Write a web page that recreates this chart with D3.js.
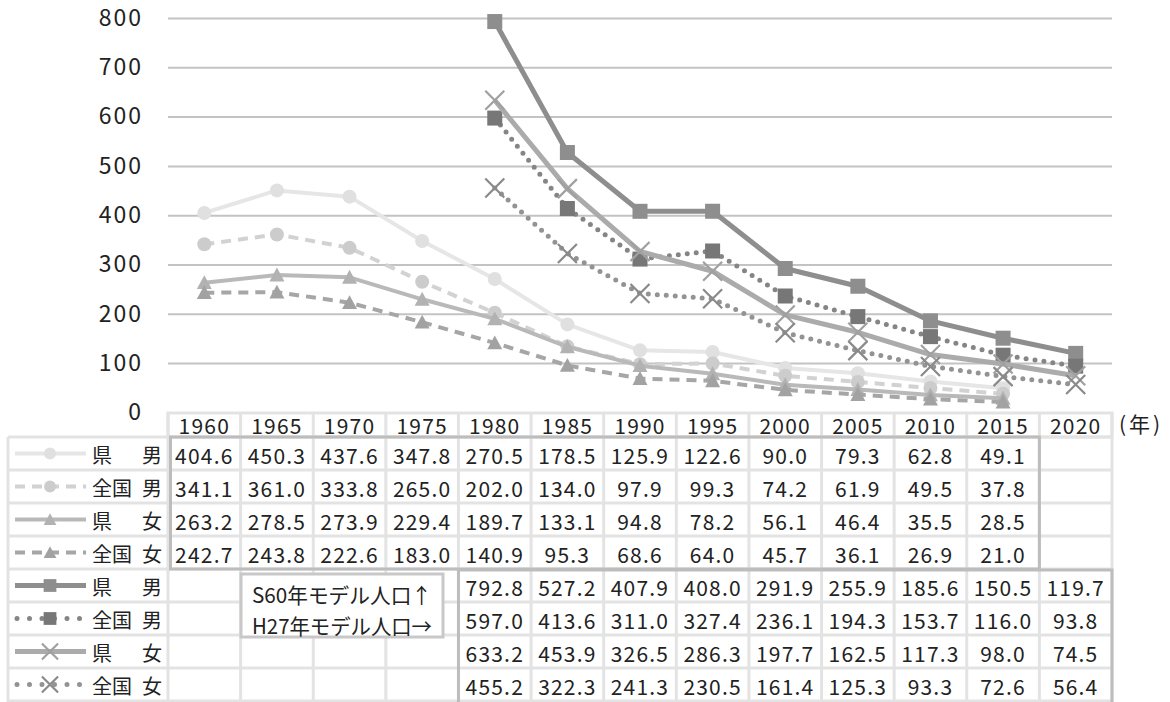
<!DOCTYPE html>
<html>
<head>
<meta charset="utf-8">
<script src="https://cdn.jsdelivr.net/npm/d3@7/dist/d3.min.js"></script>
<style>
  html, body { margin: 0; padding: 0; background: #fff; }
  svg { display: block; }
  text { font-family: "Noto Sans CJK JP", "Noto Sans", sans-serif; fill: #222; }
</style>
</head>
<body>
<svg id="chart" width="1170" height="702"></svg>
<script>
// Years shown on the category axis
const years = ["1960","1965","1970","1975","1980","1985","1990","1995","2000","2005","2010","2015","2020"];
const yTicks = [0,100,200,300,400,500,600,700,800];

// Rates 1960-2015 (standardised to the S60 model population)
const prefMaleS60   = [404.6,450.3,437.6,347.8,270.5,178.5,125.9,122.6,90.0,79.3,62.8,49.1];
const natMaleS60    = [341.1,361.0,333.8,265.0,202.0,134.0,97.9,99.3,74.2,61.9,49.5,37.8];
const prefFemaleS60 = [263.2,278.5,273.9,229.4,189.7,133.1,94.8,78.2,56.1,46.4,35.5,28.5];
const natFemaleS60  = [242.7,243.8,222.6,183.0,140.9,95.3,68.6,64.0,45.7,36.1,26.9,21.0];

// Rates 1980-2020 (standardised to the H27 model population)
const prefMaleH27   = [792.8,527.2,407.9,408.0,291.9,255.9,185.6,150.5,119.7];
const natMaleH27    = [597.0,413.6,311.0,327.4,236.1,194.3,153.7,116.0,93.8];
const prefFemaleH27 = [633.2,453.9,326.5,286.3,197.7,162.5,117.3,98.0,74.5];
const natFemaleH27  = [455.2,322.3,241.3,230.5,161.4,125.3,93.3,72.6,56.4];

const seriesNames = ["県\u3000男","全国\u3000男","県\u3000女","全国\u3000女"];
const boxNote = ["S60年モデル人口↑","H27年モデル人口→"];
const unitLabel = "(年)";

const series = [
  { name: seriesNames[0], start: 0, values: prefMaleS60,   line: "#e6e6e6", mark: "#e0e0e0", width: 4, dash: null,   shape: "circle" },
  { name: seriesNames[1], start: 0, values: natMaleS60,    line: "#d2d2d2", mark: "#cccccc", width: 4, dash: "10 7", shape: "circle" },
  { name: seriesNames[2], start: 0, values: prefFemaleS60, line: "#b9b9b9", mark: "#b2b2b2", width: 4, dash: null,   shape: "triangle" },
  { name: seriesNames[3], start: 0, values: natFemaleS60,  line: "#a6a6a6", mark: "#a2a2a2", width: 4, dash: "10 7", shape: "triangle" },
  { name: seriesNames[0], start: 4, values: prefMaleH27,   line: "#8e8e8e", mark: "#8e8e8e", width: 5, dash: null,   shape: "square" },
  { name: seriesNames[1], start: 4, values: natMaleH27,    line: "#858585", mark: "#777777", width: 5, dash: "0 9",  shape: "square" },
  { name: seriesNames[2], start: 4, values: prefFemaleH27, line: "#ababab", mark: "#a0a0a0", width: 5, dash: null,   shape: "cross" },
  { name: seriesNames[3], start: 4, values: natFemaleH27,  line: "#939393", mark: "#8a8a8a", width: 5, dash: "0 9",  shape: "cross" }
];

const svg = d3.select("#chart");
const plotLeft = 168, plotRight = 1112, plotTop = 18, plotBottom = 412.4;

const x = d3.scaleBand().domain(years).range([plotLeft, plotRight]);
const y = d3.scaleLinear().domain([0, 800]).range([plotBottom, plotTop]);
const cx = d => x(d) + x.bandwidth() / 2;

// Horizontal gridlines
const grid = svg.append("g")
  .attr("transform", `translate(${plotLeft},0)`)
  .call(d3.axisRight(y).tickValues(yTicks.filter(t => t > 0)).tickSize(plotRight - plotLeft).tickFormat(""));
grid.select(".domain").remove();
grid.selectAll("line").attr("stroke", "#c3c3c3").attr("stroke-width", 2);

// Y axis labels
const yAxis = svg.append("g")
  .attr("transform", `translate(143,0)`)
  .call(d3.axisLeft(y).tickValues(yTicks).tickSize(0).tickPadding(0));
yAxis.select(".domain").remove();
yAxis.selectAll("text")
  .attr("font-size", 23).attr("letter-spacing", 2).attr("fill", "#222")
  .style("font-family", "'Noto Sans CJK JP', sans-serif");

// Marker drawing
function drawMarker(g, shape, px, py, color, s) {
  s = s || 1;
  if (shape === "circle") {
    g.append("circle").attr("cx", px).attr("cy", py).attr("r", 7 * s).attr("fill", color);
  } else if (shape === "triangle") {
    const h = 7.5 * s;
    g.append("path").attr("d", `M${px},${py - h}L${px + h},${py + h * 0.85}L${px - h},${py + h * 0.85}Z`).attr("fill", color);
  } else if (shape === "square") {
    const h = 7.5 * s;
    g.append("rect").attr("x", px - h).attr("y", py - h).attr("width", 2 * h).attr("height", 2 * h).attr("fill", color);
  } else if (shape === "cross") {
    const h = 9.5 * s;
    g.append("path").attr("d", `M${px - h},${py - h}L${px + h},${py + h}M${px - h},${py + h}L${px + h},${py - h}`)
      .attr("stroke", color).attr("stroke-width", 2.2).attr("fill", "none");
  }
}

// Series lines and markers
const lineGen = d3.line().x(d => cx(d.year)).y(d => y(d.v));
const plot = svg.append("g");
series.forEach(s => {
  const pts = s.values.map((v, i) => ({ year: years[s.start + i], v }));
  const p = plot.append("path").datum(pts).attr("d", lineGen)
    .attr("fill", "none").attr("stroke", s.line).attr("stroke-width", s.width)
    .attr("stroke-linejoin", "round");
  if (s.dash) {
    p.attr("stroke-dasharray", s.dash);
    if (s.dash.startsWith("0")) p.attr("stroke-linecap", "round");
  }
  const mg = plot.append("g");
  pts.forEach(d => drawMarker(mg, s.shape, cx(d.year), y(d.v), s.mark));
});

// ---- Data table ----
const table = svg.append("g");
const rowTop = 437, rowH = 33, headTop = 413;
const legLeft = 8;
const nRows = 8;
const gridColor = "#e3e3e3";

// cell borders
const cols = d3.range(years.length + 1).map(i => plotLeft + i * x.bandwidth());
table.append("rect").attr("x", plotLeft).attr("y", headTop).attr("width", plotRight - plotLeft).attr("height", rowTop - headTop)
  .attr("fill", "#fff").attr("stroke", gridColor).attr("stroke-width", 3);
cols.forEach(cxv => table.append("line").attr("x1", cxv).attr("x2", cxv).attr("y1", headTop).attr("y2", 702)
  .attr("stroke", gridColor).attr("stroke-width", 3));
d3.range(nRows + 1).forEach(r => table.append("line").attr("x1", legLeft).attr("x2", plotRight)
  .attr("y1", rowTop + r * rowH).attr("y2", rowTop + r * rowH).attr("stroke", gridColor).attr("stroke-width", 3));
table.append("line").attr("x1", legLeft).attr("x2", legLeft).attr("y1", rowTop).attr("y2", 702)
  .attr("stroke", gridColor).attr("stroke-width", 3);

// header year labels
years.forEach(yr => table.append("text").attr("x", cx(yr)).attr("y", headTop + 12).attr("text-anchor", "middle")
  .attr("dominant-baseline", "central").attr("font-size", 21).attr("letter-spacing", 1.2).text(yr));
table.append("text").attr("x", 1119).attr("y", headTop + 10).attr("dominant-baseline", "central")
  .attr("font-size", 21).attr("letter-spacing", 3).text(unitLabel);

// values and legend cells
series.forEach((s, r) => {
  const cyv = rowTop + r * rowH + rowH / 2 + 1;
  s.values.forEach((v, i) => {
    table.append("text").attr("x", cx(years[s.start + i])).attr("y", cyv).attr("text-anchor", "middle")
      .attr("dominant-baseline", "central").attr("font-size", 21).attr("letter-spacing", 1.2).text(v.toFixed(1));
  });
  const lg = table.append("g");
  const ly = rowTop + r * rowH + rowH / 2;
  const ll = lg.append("line").attr("x1", 15).attr("x2", 86).attr("y1", ly).attr("y2", ly)
    .attr("stroke", s.line).attr("stroke-width", s.width);
  if (s.dash) {
    ll.attr("stroke-dasharray", s.dash.startsWith("0") ? "0 12.5" : "10 7");
    if (s.dash.startsWith("0")) { ll.attr("stroke-linecap", "round").attr("x1", 17).attr("x2", 80); }
  }
  drawMarker(lg, s.shape, 50, ly, s.mark, 0.85);
  const parts = s.name.split("\u3000");
  lg.append("text").attr("x", 92).attr("y", ly + 1).attr("dominant-baseline", "central").attr("font-size", 20).text(parts[0]);
  lg.append("text").attr("x", 162).attr("y", ly + 1).attr("text-anchor", "end").attr("dominant-baseline", "central").attr("font-size", 20).text(parts[1]);
});

// outline boxes around each block
const boxColor = "#bdbdbd";
table.append("rect").attr("x", cols[0] + 2.5).attr("y", rowTop).attr("width", cols[12] - cols[0] - 2.5).attr("height", rowH * 4)
  .attr("fill", "none").attr("stroke", boxColor).attr("stroke-width", 3);
table.append("rect").attr("x", cols[4]).attr("y", rowTop + rowH * 4 + 1).attr("width", cols[13] - cols[4]).attr("height", rowH * 4 + 10)
  .attr("fill", "none").attr("stroke", boxColor).attr("stroke-width", 3);

// note box
const nb = table.append("g");
nb.append("rect").attr("x", 241).attr("y", 574).attr("width", 202).attr("height", 63)
  .attr("fill", "#fff").attr("stroke", "#c8c8c8").attr("stroke-width", 3);
boxNote.forEach((t, i) => nb.append("text").attr("x", 252).attr("y", 594 + i * 31).attr("dominant-baseline", "central")
  .attr("font-size", 21).attr("textLength", 180).attr("lengthAdjust", "spacingAndGlyphs").text(t));
</script>
</body>
</html>
